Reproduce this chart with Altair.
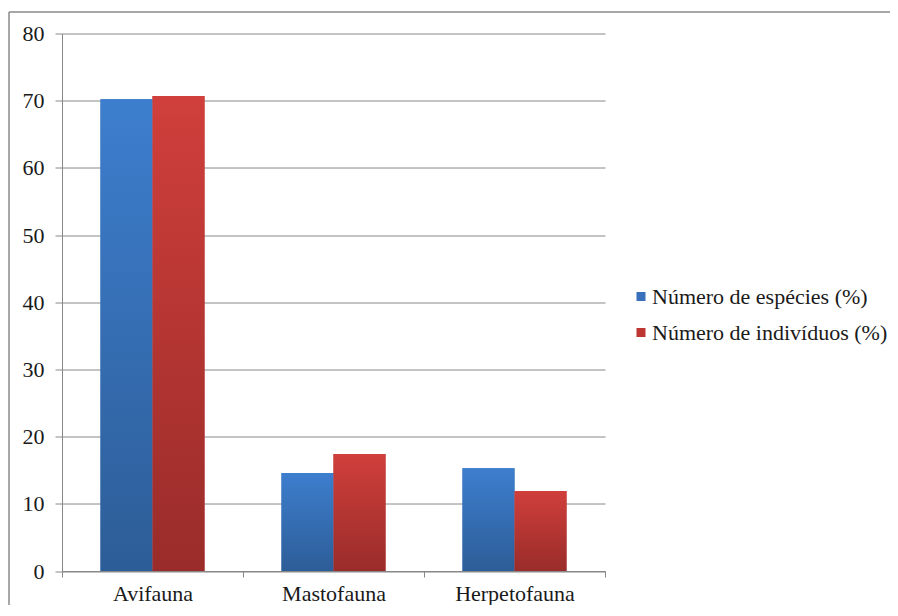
import altair as alt
import pandas as pd

categories = ["Avifauna", "Mastofauna", "Herpetofauna"]
series = ["Número de espécies (%)", "Número de indivíduos (%)"]
especies = [70.2, 14.6, 15.3]
individuos = [70.7, 17.4, 11.9]

rows = []
for c, a, b in zip(categories, especies, individuos):
    rows.append({"cat": c, "serie": series[0], "valor": a})
    rows.append({"cat": c, "serie": series[1], "valor": b})
df = pd.DataFrame(rows)

FONT = "Liberation Serif"
W, H = 543, 537.5

grad_blue = alt.Gradient(gradient="linear", x1=0, y1=0, x2=0, y2=1,
                         stops=[alt.GradientStop(color="#3d7ece", offset=0),
                                alt.GradientStop(color="#2d5d97", offset=1)])
grad_red = alt.Gradient(gradient="linear", x1=0, y1=0, x2=0, y2=1,
                        stops=[alt.GradientStop(color="#d03f3b", offset=0),
                               alt.GradientStop(color="#992c2a", offset=1)])

x_enc = alt.X("cat:N", sort=categories, title=None,
              scale=alt.Scale(paddingInner=0, paddingOuter=0),
              axis=alt.Axis(labelFont=FONT, labelFontSize=22, labelColor="#1a1a1a",
                            labelAngle=0, tickBand="extent", tickSize=6,
                            tickColor="#888888", domainColor="#888888",
                            labelPadding=6, grid=False))
xo_enc = alt.XOffset("serie:N", sort=series,
                     scale=alt.Scale(domain=series, paddingOuter=0.74, paddingInner=0))
y_enc = alt.Y("valor:Q", title=None,
              scale=alt.Scale(domain=[0, 80], nice=False),
              axis=alt.Axis(values=list(range(0, 81, 10)), labelFont=FONT,
                            labelFontSize=22, labelColor="#1a1a1a", tickSize=7,
                            tickColor="#888888", domainColor="#888888",
                            gridColor="#888888", labelPadding=11))

base = alt.Chart(df).mark_bar().encode(
    x=x_enc, xOffset=xo_enc, y=y_enc,
    color=alt.Color("serie:N", sort=series,
                    scale=alt.Scale(domain=series, range=["#3870bb", "#bd3632"]),
                    legend=alt.Legend(title=None, orient="none", legendX=568, legendY=252,
                                      labelFont=FONT, labelFontSize=22, labelColor="#1a1a1a",
                                      labelLimit=1000,
                                      symbolType="square", symbolSize=81, symbolStrokeWidth=0,
                                      labelOffset=0, rowPadding=14, padding=0))
)

overlay = alt.Chart(df).mark_bar().encode(
    x=x_enc, xOffset=xo_enc, y=y_enc,
    fill=alt.condition(alt.datum.serie == series[0], alt.value(grad_blue), alt.value(grad_red))
)

one = pd.DataFrame({"k": [0]})
frame_top = alt.Chart(one).mark_rule(color="#8a8a8a", strokeWidth=1.5, clip=False).encode(
    x=alt.value(-53), x2=alt.value(900), y=alt.value(-21.5))
frame_left = alt.Chart(one).mark_rule(color="#8a8a8a", strokeWidth=1.5, clip=False).encode(
    x=alt.value(-53), y=alt.value(-21.5), y2=alt.value(700))

chart = alt.layer(frame_top, frame_left, base, overlay).properties(
    width=W, height=H,
    autosize=alt.AutoSizeParams(type="none"),
    padding={"left": 54, "top": 25.5, "right": 285, "bottom": 33.5},
    background="white"
).configure_view(strokeWidth=0)

chart.save("out.html", embed_options={"renderer": "svg", "actions": False})
